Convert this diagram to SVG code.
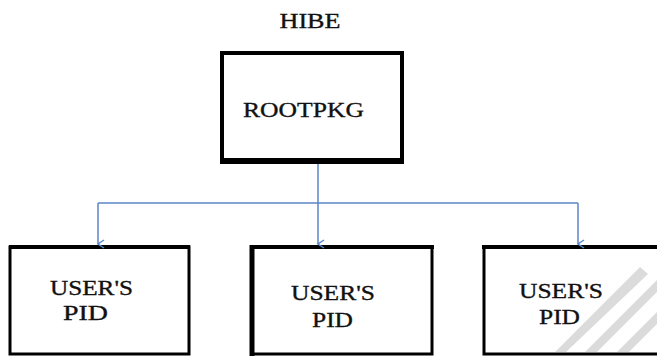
<svg xmlns="http://www.w3.org/2000/svg" width="657" height="356" viewBox="0 0 657 356">
<style>
.box{fill:#fff;stroke:#000;stroke-width:3}
.t{font-family:'Liberation Serif','DejaVu Serif','Times New Roman',serif;font-size:22px;fill:#111;stroke:#111;stroke-width:0.35}
.c{fill:none;stroke:#5a86c6;stroke-width:1.5}
.wm{fill:#cfcfcf;opacity:0.75}
</style>
<defs>
<marker id="ah" viewBox="0 0 10 10" refX="5" refY="9" markerWidth="10" markerHeight="10" markerUnits="userSpaceOnUse" orient="auto-start-reverse">
<path d="M1,3 L5,9 L9,3" fill="none" stroke="#5a86c6" stroke-width="1.5"/>
</marker>
</defs>
<rect width="657" height="356" fill="#fff"/>
<g id="title"><text class="t" x="310" y="28" text-anchor="middle" textLength="61" lengthAdjust="spacingAndGlyphs">HIBE</text></g>
<g id="root">
<rect class="box" x="222" y="53" width="180" height="108" style="stroke-width:4"/>
<line x1="220" y1="161" x2="404" y2="161" stroke="#000" stroke-width="6"/>
<text class="t" x="243" y="117" textLength="121" lengthAdjust="spacingAndGlyphs">ROOTPKG</text>
</g>
<g id="user1">
<rect class="box" x="10" y="247" width="179" height="107"/>
<line x1="9" y1="247" x2="190" y2="247" stroke="#000" stroke-width="4"/>
<text class="t" x="50" y="295" textLength="83" lengthAdjust="spacingAndGlyphs">USER'S</text>
<text class="t" x="63" y="320" textLength="45" lengthAdjust="spacingAndGlyphs">PID</text>
</g>
<g id="user2">
<rect class="box" x="252" y="247" width="180" height="107"/>
<line x1="250" y1="247" x2="434" y2="247" stroke="#000" stroke-width="4"/>
<line x1="252" y1="245" x2="252" y2="356" stroke="#000" stroke-width="5"/>
<text class="t" x="291" y="300" textLength="84" lengthAdjust="spacingAndGlyphs">USER'S</text>
<text class="t" x="312" y="327" textLength="41" lengthAdjust="spacingAndGlyphs">PID</text>
</g>
<g id="user3">
<rect class="box" x="484" y="247" width="190" height="107"/>
<line x1="482" y1="247" x2="657" y2="247" stroke="#000" stroke-width="4"/>
<text class="t" x="519" y="298" textLength="84" lengthAdjust="spacingAndGlyphs">USER'S</text>
<text class="t" x="539" y="324" textLength="41" lengthAdjust="spacingAndGlyphs">PID</text>
</g>
<g id="watermark">
<path class="wm" d="M585,352 L657,280 L657,292 L597,352 Z"/>
<path class="wm" d="M617,352 L657,312 L657,324 L629,352 Z"/>
<path class="wm" d="M555,352 L640,267 L648,274 L566,352 Z"/>
</g>
<g id="connectors">
<line class="c" x1="318" y1="164" x2="318" y2="203"/>
<line class="c" x1="98" y1="203" x2="578" y2="203"/>
<line class="c" x1="98" y1="203" x2="98" y2="244" marker-end="url(#ah)"/>
<line class="c" x1="318" y1="203" x2="318" y2="244" marker-end="url(#ah)"/>
<line class="c" x1="578" y1="203" x2="578" y2="244" marker-end="url(#ah)"/>
</g>
</svg>
